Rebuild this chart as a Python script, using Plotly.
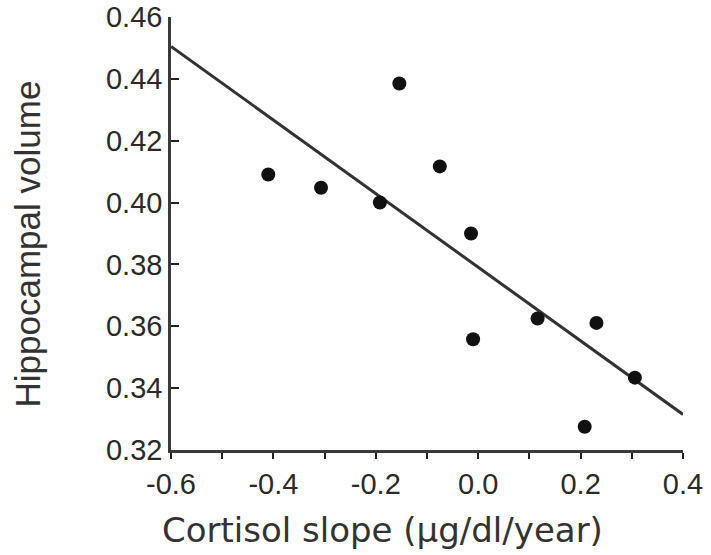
import plotly.graph_objects as go

# Data
cortisol_slope = [-0.41, -0.307, -0.192, -0.154, -0.075, -0.014, -0.010, 0.116, 0.231, 0.208, 0.306]
hippocampal_volume = [0.4091, 0.4048, 0.4000, 0.4385, 0.4117, 0.3900, 0.3558, 0.3625, 0.3611, 0.3275, 0.3434]

# Regression line as drawn (end points)
fit_x = [-0.6, 0.4]
fit_y = [0.4505, 0.3315]

x_tickvals = [-0.6, -0.4, -0.2, 0.0, 0.2, 0.4]
x_ticktext = ["-0.6", "-0.4", "-0.2", "0.0", "0.2", "0.4"]
y_tickvals = [0.32, 0.34, 0.36, 0.38, 0.40, 0.42, 0.44, 0.46]
y_ticktext = ["0.32", "0.34", "0.36", "0.38", "0.40", "0.42", "0.44", "0.46"]

x_title = "Cortisol slope (µg/dl/year)"
y_title = "Hippocampal volume"

fig = go.Figure()
fig.add_trace(go.Scatter(
    x=fit_x, y=fit_y, mode="lines",
    line=dict(color="#333333", width=3),
    hoverinfo="skip", showlegend=False, cliponaxis=False,
))
fig.add_trace(go.Scatter(
    x=cortisol_slope, y=hippocampal_volume, mode="markers",
    marker=dict(color="#111111", size=14),
    showlegend=False, cliponaxis=False,
))

axis_font = dict(family="Liberation Sans, Arial, sans-serif", size=29, color="#2a2a2a")

fig.update_layout(
    width=711, height=555,
    margin=dict(l=171, r=28, t=17, b=105, autoexpand=False),
    paper_bgcolor="white", plot_bgcolor="white",
    xaxis=dict(
        range=[-0.6, 0.4], tickvals=x_tickvals, ticktext=x_ticktext,
        showgrid=False, zeroline=False, automargin=False,
        ticklabeloverflow="allow",
        showline=True, linecolor="#3a3a3a", linewidth=2.5,
        ticks="outside", ticklen=6, tickwidth=2, tickcolor="#222222",
        minor=dict(dtick=0.1, ticks="outside", ticklen=6, tickwidth=2, tickcolor="#222222"),
        tickfont=axis_font,
    ),
    yaxis=dict(
        range=[0.32, 0.46], tickvals=y_tickvals, ticktext=y_ticktext,
        showgrid=False, zeroline=False, automargin=False,
        ticklabeloverflow="allow",
        showline=True, linecolor="#3a3a3a", linewidth=2.5,
        ticks="inside", ticklen=8, tickwidth=2, tickcolor="#222222",
        tickfont=axis_font,
    ),
    annotations=[
        dict(text=x_title, xref="paper", yref="paper", x=0.413, y=-0.185,
             xanchor="center", yanchor="middle", showarrow=False,
             font=dict(family="DejaVu Sans, sans-serif", size=34, color="#333333")),
        dict(text=y_title, xref="paper", yref="paper", x=-0.281, y=0.475,
             xanchor="center", yanchor="middle", showarrow=False, textangle=-90,
             font=dict(family="Liberation Sans, Arial, sans-serif", size=35, color="#333333")),
    ],
)

fig.write_html("out.html", config={"displayModeBar": False},
               post_script="document.body.style.margin='0';")
